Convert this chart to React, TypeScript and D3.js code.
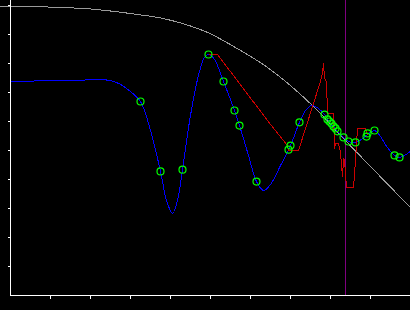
import React from "react";
import * as d3 from "d3";

const W = 410;
const H = 310;

// data (x, y in axis units 0..10)
const grayX = [-0.25, 0.875, 1.5, 2.0, 2.5, 3.175, 3.75, 4.3, 4.925, 5.75, 6.5, 7.55, 8.375, 10];
const grayY = [9.97, 9.95, 9.92, 9.88, 9.81, 9.69, 9.57, 9.38, 9.07, 8.45, 7.79, 6.55, 5.34, 3.03];

const blueX = [0, 0.75, 1.625, 2.125, 2.5, 2.75, 3.0, 3.25, 3.5, 3.75, 3.9, 4.05, 4.175, 4.3, 4.5, 4.7, 4.85, 4.95, 5.1, 5.325, 5.6, 5.725, 5.95, 6.15, 6.325, 6.5, 6.75, 7.0, 7.225, 7.375, 7.525, 7.7, 7.85, 8.0, 8.175, 8.325, 8.45, 8.625, 8.775, 8.925, 9.1, 9.25, 9.425, 9.6, 9.725, 9.85, 10];
const blueY = [7.38, 7.4, 7.41, 7.45, 7.41, 7.28, 7.03, 6.69, 5.69, 4.28, 3.28, 2.83, 3.28, 4.34, 6.21, 7.59, 8.21, 8.31, 8.14, 7.38, 6.38, 5.86, 4.83, 3.93, 3.62, 3.83, 4.48, 5.17, 5.97, 6.38, 6.55, 6.45, 6.24, 5.93, 5.66, 5.45, 5.31, 5.28, 5.38, 5.55, 5.69, 5.48, 5.1, 4.83, 4.76, 4.83, 4.97];

const ptX = [3.25, 3.75, 4.3, 4.95, 5.325, 5.6, 5.725, 6.15, 6.95, 7.0, 7.225, 7.85, 7.925, 7.975, 8.025, 8.075, 8.125, 8.175, 8.325, 8.45, 8.625, 8.9, 8.925, 9.1, 9.6, 9.725];
const ptY = [6.69, 4.28, 4.34, 8.31, 7.38, 6.38, 5.86, 3.93, 5.03, 5.17, 5.97, 6.24, 6.07, 6.0, 5.93, 5.83, 5.76, 5.66, 5.45, 5.31, 5.28, 5.48, 5.59, 5.69, 4.83, 4.76];

const redX = [4.95, 5.175, 6.5, 6.925, 6.95, 7.2, 7.75, 7.8, 7.825, 7.85, 7.9, 7.925, 8.075, 8.1, 8.125, 8.2, 8.25, 8.3, 8.325, 8.35, 8.4, 8.575, 8.625, 8.675, 8.875, 8.925];
const redY = [8.31, 8.31, 5.9, 5.17, 5.0, 5.0, 7.38, 7.69, 8.0, 7.52, 7.34, 6.28, 6.28, 5.07, 5.24, 5.24, 4.93, 4.07, 4.72, 4.66, 3.72, 3.72, 4.66, 5.76, 5.76, 5.52];

const markerX = 8.375;

const xTicks = [1, 2, 3, 4, 5, 6, 7, 8, 9];
const yTicks = [1, 2, 3, 4, 5, 6, 7, 8, 9, 10];

export default function App() {
  const x = d3.scaleLinear().domain([0, 10]).range([10.5, 410.5]);
  const y = d3.scaleLinear().domain([0, 10]).range([295.5, 5.5]);

  const zip = (xs: number[], ys: number[]) => xs.map((v, i) => [v, ys[i]] as [number, number]);

  const catmull = d3
    .line<[number, number]>()
    .x((d) => x(d[0]))
    .y((d) => y(d[1]))
    .curve(d3.curveCatmullRom.alpha(0.5));
  const linear = d3
    .line<[number, number]>()
    .x((d) => x(d[0]))
    .y((d) => y(d[1]));

  return (
    <svg
      width={W}
      height={H}
      style={{ position: "fixed", left: 0, top: 0, background: "#000", display: "block" }}
    >
      <rect x={0} y={0} width={W} height={H} fill="#000" />
      <g shapeRendering="crispEdges">
        <path d={catmull(zip(grayX, grayY)) || ""} fill="none" stroke="#9a9a9a" strokeWidth={1} />
        <line x1={x(markerX)} x2={x(markerX)} y1={0} y2={y(0)} stroke="#800080" strokeWidth={1} />
        <path d={catmull(zip(blueX, blueY)) || ""} fill="none" stroke="#0000ff" strokeWidth={1} />
        <path d={linear(zip(redX, redY)) || ""} fill="none" stroke="#cc0000" strokeWidth={1} />
      </g>
      {ptX.map((v, i) => (
        <circle key={i} cx={x(v)} cy={y(ptY[i])} r={3.5} fill="none" stroke="#00ff00" strokeWidth={1.2} />
      ))}
      <g shapeRendering="crispEdges">
        <line x1={x(0)} x2={x(0)} y1={0} y2={y(0)} stroke="#fff" strokeWidth={1} />
        <line x1={x(0)} x2={W} y1={y(0)} y2={y(0)} stroke="#fff" strokeWidth={1} />
        {yTicks.map((t) => (
          <line key={"y" + t} x1={x(0) - 3} x2={x(0)} y1={y(t)} y2={y(t)} stroke="#fff" strokeWidth={1} />
        ))}
        {xTicks.map((t) => (
          <line key={"x" + t} x1={x(t)} x2={x(t)} y1={y(0)} y2={y(0) + 3} stroke="#fff" strokeWidth={1} />
        ))}
      </g>
    </svg>
  );
}
